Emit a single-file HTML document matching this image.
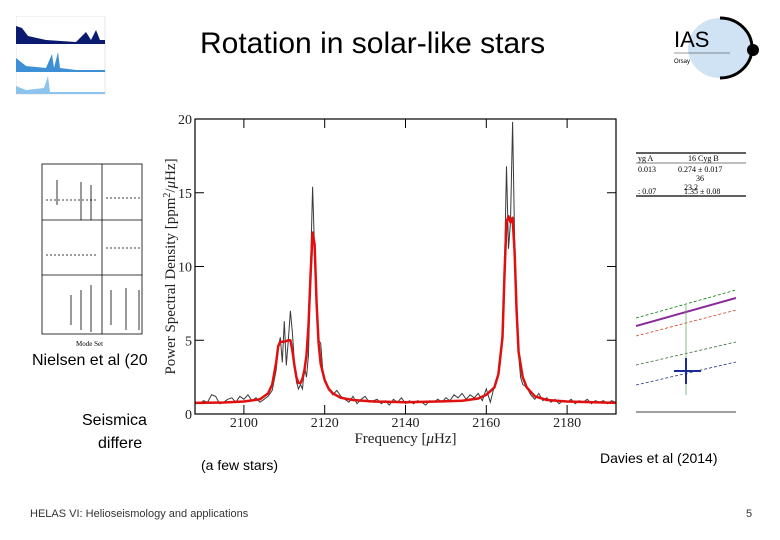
<!DOCTYPE html>
<html><head><meta charset="utf-8"><style>
body{margin:0;width:780px;height:540px;background:#fff;overflow:hidden;font-family:"Liberation Sans",sans-serif;position:relative}
.t{position:absolute;white-space:nowrap;color:#000}
</style></head><body>
<div class="t" style="left:200px;top:27px;font-size:30px;">Rotation in solar-like stars</div>

<svg style="position:absolute;left:16px;top:16px" width="90" height="80">
<rect x="0" y="0" width="89" height="78" fill="#fff" stroke="#ccc" stroke-width="0.5"/>
<path d="M0 28 L0 10 L6 12 L12 20 L30 24 L60 26 L70 16 L75 24 L80 14 L84 24 L89 24 L89 28Z" fill="#0a1a6e"/>
<path d="M0 56 L0 42 L10 50 L30 52 L36 38 L38 52 L42 36 L44 52 L60 54 L89 54 L89 56Z" fill="#3d8fd6"/>
<path d="M0 78 L0 70 L10 74 L28 72 L32 60 L34 76 L89 76 L89 78Z" fill="#8cc4ee"/>
</svg>

<svg style="position:absolute;left:36px;top:160px" width="115" height="195">
<g stroke="#000" fill="none" stroke-width="0.8">
<rect x="6" y="4" width="100" height="170"/><line x1="66" y1="4" x2="66" y2="174"/>
<line x1="6" y1="60" x2="106" y2="60"/><line x1="6" y1="115" x2="106" y2="115"/>
<line x1="10" y1="40" x2="60" y2="40" stroke-dasharray="2,2"/><line x1="10" y1="95" x2="60" y2="95" stroke-dasharray="2,2"/>
<line x1="70" y1="38" x2="106" y2="38" stroke-dasharray="2,2"/><line x1="70" y1="88" x2="106" y2="88" stroke-dasharray="2,2"/>
<line x1="21" y1="20" x2="21" y2="45"/><line x1="45" y1="22" x2="45" y2="60"/><line x1="55" y1="25" x2="55" y2="60"/>
<line x1="45" y1="130" x2="45" y2="170"/><line x1="55" y1="125" x2="55" y2="172"/><line x1="35" y1="135" x2="35" y2="165"/>
<line x1="75" y1="130" x2="75" y2="165"/><line x1="90" y1="128" x2="90" y2="170"/><line x1="103" y1="130" x2="103" y2="170"/>
</g>
<text x="40" y="186" font-size="7" font-family="Liberation Serif">Mode Set</text>
</svg>
<div class="t" style="left:32px;top:352px;font-size:16px;">Nielsen et al (20</div>
<div class="t" style="left:82px;top:412px;font-size:16px;">Seismica</div>
<div class="t" style="left:98px;top:435px;font-size:16px;">differe</div>

<svg style="position:absolute;left:660px;top:15px" width="110" height="70">
<ellipse cx="60" cy="33" rx="32" ry="30" fill="#cfe3f5"/>
<path d="M60 3 A32 30 0 0 1 60 63" stroke="#000" stroke-width="3" fill="none"/>
<circle cx="93" cy="35" r="6" fill="#000"/>
<text x="14" y="32" font-size="22" font-family="Liberation Sans">IAS</text>
<line x1="14" y1="38" x2="70" y2="38" stroke="#333" stroke-width="0.6"/>
<text x="14" y="48" font-size="6">Orsay</text>
</svg>

<svg style="position:absolute;left:636px;top:150px" width="110" height="50">
<line x1="0" y1="3" x2="110" y2="3" stroke="#000" stroke-width="1.2"/>
<line x1="0" y1="13" x2="110" y2="13" stroke="#000" stroke-width="0.6"/>
<line x1="0" y1="46" x2="110" y2="46" stroke="#000" stroke-width="1.2"/>
<g font-family="Liberation Serif" font-size="8">
<text x="2" y="11">yg A</text><text x="52" y="11">16 Cyg B</text>
<text x="2" y="22">0.013</text><text x="42" y="22">0.274 ± 0.017</text>
<text x="60" y="31">36</text><text x="48" y="40">23.2</text>
<text x="2" y="44">: 0.07</text><text x="48" y="44">1.35 ± 0.08</text></g>
</svg>

<svg style="position:absolute;left:636px;top:240px" width="100" height="175">
<line x1="0" y1="172" x2="100" y2="172" stroke="#000" stroke-width="0.8"/>
<line x1="0" y1="78" x2="100" y2="50" stroke="green" stroke-dasharray="3,2" stroke-width="0.8"/>
<line x1="0" y1="86" x2="100" y2="58" stroke="#8a2a9a" stroke-width="2"/>
<line x1="0" y1="96" x2="100" y2="70" stroke="#d04020" stroke-dasharray="3,2" stroke-width="0.8"/>
<line x1="0" y1="125" x2="100" y2="102" stroke="#3a6a3a" stroke-dasharray="3,2" stroke-width="0.8"/>
<line x1="0" y1="145" x2="100" y2="122" stroke="#203080" stroke-dasharray="3,2" stroke-width="0.8"/>
<line x1="50" y1="65" x2="50" y2="155" stroke="#6a6" stroke-width="0.8"/>
<line x1="38" y1="131" x2="65" y2="131" stroke="#1a2a9a" stroke-width="2"/>
<line x1="50" y1="118" x2="50" y2="144" stroke="#1a2a9a" stroke-width="2"/>
</svg>
<div class="t" style="left:600px;top:450px;font-size:14px;">Davies et al (2014)</div>

<svg id="chart" style="position:absolute;left:150px;top:100px" width="475" height="352"></svg>
<div class="t" style="left:201px;top:457px;font-size:14px;">(a few stars)</div>

<div class="t" style="left:30px;top:508px;font-size:11px;color:#333">HELAS VI: Helioseismology and applications</div>
<div class="t" style="left:746px;top:508px;font-size:11px;color:#333">5</div>

<script>
const obsFreq=[2088,2089,2090,2091,2092,2093,2094,2095,2096,2097,2098,2099,2100,2101,2102,2103,2104,2105,2106,2107,2108,2108.5,2109,2109.5,2110,2110.5,2111,2111.5,2112,2112.5,2113,2113.5,2114,2114.5,2115,2115.5,2116,2116.5,2117,2117.5,2118,2118.5,2119,2119.5,2120,2121,2122,2123,2124,2125,2126,2127,2128,2129,2130,2131,2132,2133,2134,2135,2136,2137,2138,2139,2140,2141,2142,2143,2144,2145,2146,2147,2148,2149,2150,2151,2152,2153,2154,2155,2156,2157,2158,2159,2160,2161,2162,2163,2163.5,2164,2164.5,2165,2165.5,2166,2166.5,2167,2167.5,2168,2168.5,2169,2170,2171,2172,2173,2174,2175,2176,2177,2178,2179,2180,2181,2182,2183,2184,2185,2186,2187,2188,2189,2190,2191,2192];
const obsPower=[0.8,0.7,0.9,0.8,1.3,1.2,0.7,0.8,1.0,1.1,0.8,1.2,1.0,1.3,0.9,1.1,0.8,1.0,1.2,1.6,3.0,4.5,5.2,3.5,6.3,3.3,5.0,7.0,5.5,3.5,2.2,1.7,2.0,1.7,3.2,2.5,4.0,10,15.4,11,7,5,4.8,3,2.2,1.7,1.3,1.6,1.2,1.0,0.8,1.2,0.7,1.0,1.2,0.8,0.9,1.0,0.7,0.9,0.6,1.0,0.8,1.1,0.7,0.9,0.7,0.9,0.8,0.6,0.9,0.8,1.0,0.8,1.1,0.9,1.3,1.1,1.4,1.0,1.3,1.1,1.4,0.9,1.7,0.8,1.9,2.6,3.5,6,10,16.8,11.2,13,19.8,11.8,8,4,2.5,2.0,1.8,1.3,1.0,1.4,0.9,1.1,0.8,1.0,0.7,0.9,0.8,1.0,0.7,0.9,0.8,1.0,0.7,0.9,0.8,0.9,0.7,0.9,0.8];
const fitFreq=[2088,2095,2100,2104,2106,2107,2108,2108.5,2109,2110,2111,2111.5,2112,2112.5,2113,2113.5,2114,2114.5,2115,2115.5,2116,2116.5,2117,2117.5,2118,2118.5,2119,2120,2121,2122,2124,2127,2132,2140,2148,2154,2158,2160,2162,2163,2164,2164.5,2165,2165.5,2166,2166.5,2167,2167.5,2168,2169,2170,2172,2175,2180,2192];
const fitPower=[0.75,0.78,0.85,1.0,1.4,2.0,3.5,4.6,4.9,4.9,5.0,5.0,4.3,3.3,2.5,2.1,2.1,2.4,3.0,4.0,6.0,9.5,12.3,11.5,7.5,4.8,3.4,2.3,1.7,1.4,1.1,0.95,0.85,0.8,0.85,0.9,1.05,1.3,1.8,2.7,5.2,9.5,13.0,13.4,13.0,13.3,11,7,4.2,2.5,1.8,1.2,0.95,0.85,0.75];
const xTicks=[2100,2120,2140,2160,2180];
const yTicks=[0,5,10,15,20];

const svg=document.getElementById('chart');const NS='http://www.w3.org/2000/svg';
const L=45,R=466,T=19,B=314,X0=2087.9,X1=2192.1,Y0=0,Y1=20;
const sx=v=>L+(v-X0)/(X1-X0)*(R-L);
const sy=v=>B-(v-Y0)/(Y1-Y0)*(B-T);
function mk(tag,a){const e=document.createElementNS(NS,tag);for(const k in a)e.setAttribute(k,a[k]);svg.appendChild(e);return e;}
const bg=mk('rect',{x:0,y:0,width:475,height:352,fill:'#fff'});


const defs=document.createElementNS(NS,'clipPath');defs.id='clip';const cr=document.createElementNS(NS,'rect');
cr.setAttribute('x',L);cr.setAttribute('y',T);cr.setAttribute('width',R-L);cr.setAttribute('height',B-T);defs.appendChild(cr);svg.appendChild(defs);
function line(xs,ys){return xs.map((f,i)=>(i?'L':'M')+sx(f).toFixed(1)+' '+sy(ys[i]).toFixed(1)).join(' ');}
const obs=mk('path',{d:line(obsFreq,obsPower),fill:'none',stroke:'#3a3a3a','stroke-width':1,'clip-path':'url(#clip)'});


const fit=mk('path',{d:line(fitFreq,fitPower),fill:'none',stroke:'#e01010','stroke-width':2.5,'stroke-linejoin':'round','clip-path':'url(#clip)'});


const fr=mk('rect',{x:L,y:T,width:R-L,height:B-T,fill:'none',stroke:'#000','stroke-width':1.2});


const font='Liberation Serif, serif';
xTicks.forEach(v=>{const x=sx(v);
 mk('line',{x1:x,y1:B,x2:x,y2:B-9,stroke:'#000'});mk('line',{x1:x,y1:T,x2:x,y2:T+9,stroke:'#000'});
 const t=mk('text',{x:x,y:B+13,'text-anchor':'middle','font-size':14,'font-family':font,fill:'#222'});t.textContent=v;
 
 });
yTicks.forEach(v=>{const y=sy(v);
 mk('line',{x1:L,y1:y,x2:L+9,y2:y,stroke:'#000'});mk('line',{x1:R,y1:y,x2:R-9,y2:y,stroke:'#000'});
 const t=mk('text',{x:L-3,y:y+5,'text-anchor':'end','font-size':14,'font-family':font,fill:'#222'});t.textContent=v;
 
 });
const xt=mk('text',{x:(L+R)/2,y:343,'text-anchor':'middle','font-size':15,'font-family':font,fill:'#222'});
xt.innerHTML='Frequency [<tspan font-style="italic">μ</tspan>Hz]';


const yt=mk('text',{x:0,y:0,'text-anchor':'middle','font-size':15,'font-family':font,fill:'#222',transform:`translate(25,${(T+B)/2}) rotate(-90)`});
yt.innerHTML='Power Spectral Density [ppm<tspan dy="-5" font-size="10">2</tspan><tspan dy="5">/</tspan><tspan font-style="italic">μ</tspan>Hz]';


</script>
</body></html>
